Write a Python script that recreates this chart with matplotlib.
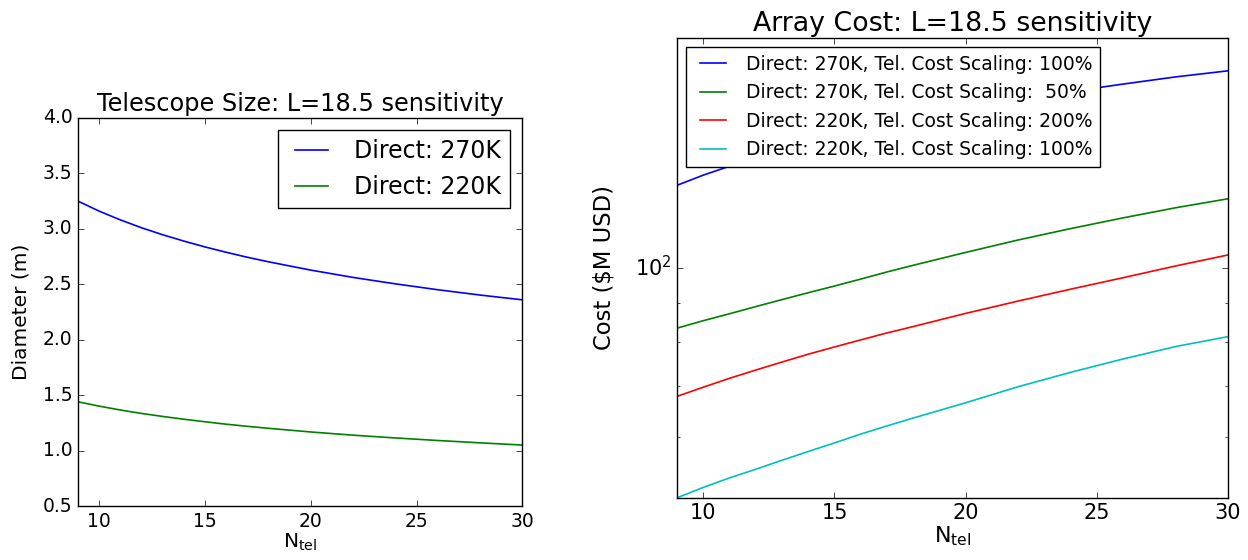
import matplotlib
matplotlib.use("Agg")
import matplotlib.pyplot as plt

# ------------- data -------------
n_tel = [9, 10, 11, 12, 13, 14, 15, 16, 17, 18, 20, 22, 24, 26, 28, 30]

# telescope diameter (m)
diam_270 = [3.25, 3.160, 3.081, 3.010, 2.947, 2.890, 2.837, 2.789,
            2.744, 2.703, 2.628, 2.562, 2.504, 2.451, 2.403, 2.36]
diam_220 = [1.44, 1.401, 1.366, 1.335, 1.308, 1.283, 1.260, 1.238,
            1.219, 1.201, 1.168, 1.139, 1.114, 1.091, 1.070, 1.05]

# array cost ($M USD)
cost_270_100 = [128.3, 132.3, 135.9, 139.4, 142.6, 145.7, 148.6, 151.4,
                154.1, 156.6, 161.5, 166.0, 170.2, 174.1, 177.9, 181.2]
cost_270_50 = [83.4, 85.3, 87.1, 89.0, 90.9, 92.8, 94.7, 96.7,
               98.8, 100.8, 104.8, 108.8, 112.6, 116.3, 119.9, 123.2]
cost_220_200 = [67.9, 69.8, 71.7, 73.5, 75.3, 77.1, 78.8, 80.5,
                82.2, 83.8, 87.2, 90.5, 93.8, 97.1, 100.6, 104.0]
cost_220_100 = [50.0, 51.6, 53.1, 54.5, 56.0, 57.5, 59.0, 60.6,
                62.1, 63.6, 66.6, 69.9, 73.0, 76.0, 78.9, 81.3]

size_labels = ["Direct: 270K", "Direct: 220K"]
cost_labels = ["Direct: 270K, Tel. Cost Scaling: 100%",
               "Direct: 270K, Tel. Cost Scaling:  50%",
               "Direct: 220K, Tel. Cost Scaling: 200%",
               "Direct: 220K, Tel. Cost Scaling: 100%"]

# ------------- styling -------------
plt.style.use("classic")
plt.rcParams["font.family"] = ["DejaVu Sans"]
plt.rcParams["mathtext.fontset"] = "dejavusans"
LW = 1.2

fig = plt.figure(figsize=(12.48, 5.6), dpi=100, facecolor="white")

# ------------- left: telescope size -------------
ax1 = fig.add_axes([0.0625, 0.0964, 0.356, 0.6929])
ax1.plot(n_tel, diam_270, color="b", lw=LW, label=size_labels[0])
ax1.plot(n_tel, diam_220, color="g", lw=LW, label=size_labels[1])
ax1.set_xlim(9, 30)
ax1.set_ylim(0.5, 4.0)
ax1.set_xticks([10, 15, 20, 25, 30])
ax1.set_title("Telescope Size: L=18.5 sensitivity", fontsize=17.3)
ax1.set_ylabel("Diameter (m)", fontsize=14.5)
ax1.yaxis.set_label_coords(-0.106, 0.5)
ax1.set_xlabel(r"N$_{\rm tel}$", fontsize=14.5, labelpad=1)
ax1.tick_params(labelsize=13.5)
ax1.legend(loc="upper right", fontsize=17, frameon=True, fancybox=False)

# ------------- right: array cost -------------
ax2 = fig.add_axes([0.5425, 0.111, 0.4415, 0.821])
ax2.plot(n_tel, cost_270_100, color="b", lw=LW, label=cost_labels[0])
ax2.plot(n_tel, cost_270_50, color="g", lw=LW, label=cost_labels[1])
ax2.plot(n_tel, cost_220_200, color="r", lw=LW, label=cost_labels[2])
ax2.plot(n_tel, cost_220_100, color="c", lw=LW, label=cost_labels[3])
ax2.set_yscale("log")
ax2.set_xlim(9, 30)
ax2.set_ylim(50, 200)
ax2.set_xticks([10, 15, 20, 25, 30])
ax2.set_title("Array Cost: L=18.5 sensitivity", fontsize=19.3)
ax2.set_ylabel(r"Cost (\$M USD)", fontsize=16.3)
ax2.yaxis.set_label_coords(-0.1125, 0.5)
ax2.set_xlabel(r"N$_{\rm tel}$", fontsize=16, labelpad=1)
ax2.tick_params(labelsize=15)
ax2.legend(loc="upper left", fontsize=13.5, frameon=True, fancybox=False)

fig.savefig("out.png", dpi=100, facecolor="white")
